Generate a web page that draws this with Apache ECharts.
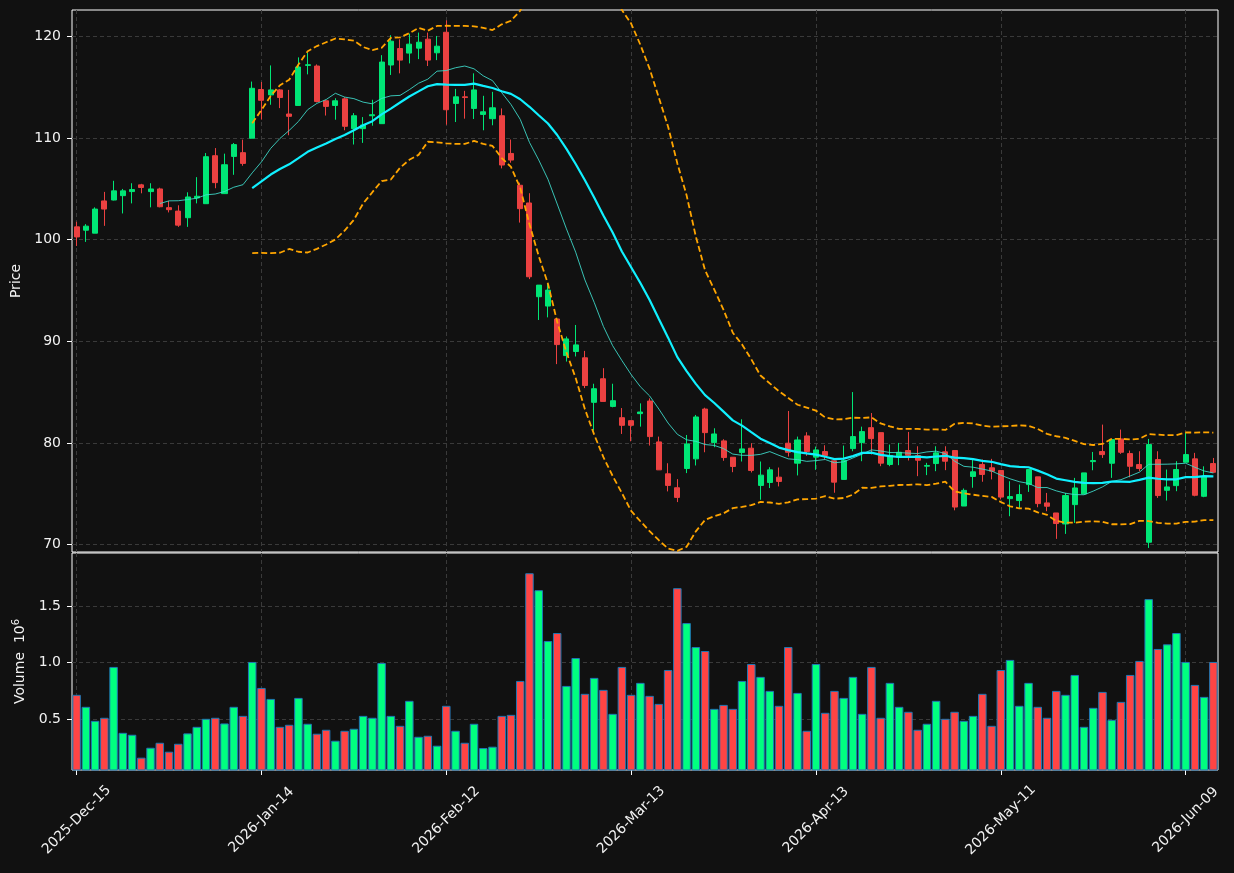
<!DOCTYPE html>
<html>
<head>
<meta charset="utf-8">
<title>Price / Volume</title>
<script src="https://cdn.jsdelivr.net/npm/echarts@6/dist/echarts.min.js"></script>
<style>
  html, body { margin: 0; padding: 0; background: #111111; }
  #chart { width: 1234px; height: 873px; }
</style>
</head>
<body>
<div id="chart"></div>
<script>
// trading days: weekdays from the start date, minus exchange holidays
const startDate = '2025-12-15';
const barCount = 124;
const holidays = ['2025-12-25', '2026-01-01', '2026-01-19', '2026-02-16', '2026-04-03', '2026-05-25'];
const monthNames = ['Jan', 'Feb', 'Mar', 'Apr', 'May', 'Jun', 'Jul', 'Aug', 'Sep', 'Oct', 'Nov', 'Dec'];

// OHLC
const opens = [
  101.25, 100.92, 100.63, 103.80, 103.89, 104.32, 104.72, 105.38, 104.72, 104.98,
  103.14, 102.80, 102.15, 104.10, 103.53, 108.25, 104.52, 108.18, 108.55, 109.97,
  114.76, 114.23, 114.72, 112.35, 113.19, 117.13, 117.07, 113.65, 113.19, 113.84,
  110.91, 110.91, 112.18, 111.40, 117.17, 118.79, 118.34, 118.83, 119.71, 118.37,
  120.39, 113.39, 114.04, 112.90, 112.31, 111.89, 112.18, 108.47, 105.34, 103.60,
  94.38, 93.46, 92.19, 88.59, 88.99, 88.37, 83.99, 86.31, 83.59, 82.48,
  82.19, 82.88, 84.12, 80.10, 76.96, 75.59, 77.48, 78.43, 83.33, 80.03,
  80.20, 78.59, 79.05, 79.48, 75.82, 76.11, 76.63, 79.97, 78.01, 80.69,
  78.60, 79.15, 78.24, 76.41, 79.44, 80.03, 81.50, 81.01, 77.88, 78.60,
  79.25, 78.76, 77.71, 77.97, 79.12, 79.25, 73.79, 76.70, 77.88, 77.55,
  77.29, 74.52, 74.33, 75.90, 76.66, 74.10, 73.11, 72.03, 73.93, 74.98,
  78.16, 79.15, 78.00, 80.39, 78.95, 77.87, 70.23, 78.36, 75.34, 75.80,
  78.10, 78.43, 74.75, 77.97
];
const closes = [
  100.26, 101.32, 103.00, 103.00, 104.79, 104.79, 104.92, 105.12, 104.98, 103.23,
  102.94, 101.42, 104.19, 104.26, 108.15, 105.60, 107.36, 109.34, 107.49, 114.88,
  113.70, 114.72, 113.97, 112.12, 116.97, 117.20, 113.58, 113.10, 113.65, 111.14,
  112.18, 111.27, 112.28, 117.46, 119.51, 117.65, 119.22, 119.41, 117.65, 119.02,
  112.77, 114.04, 113.97, 114.72, 112.57, 112.96, 107.33, 107.82, 103.04, 96.34,
  95.52, 95.03, 89.67, 90.23, 89.64, 85.65, 85.33, 84.08, 84.15, 81.73,
  81.73, 83.04, 80.62, 77.35, 75.82, 74.64, 79.90, 82.55, 81.01, 80.88,
  78.56, 77.68, 79.41, 77.29, 76.83, 77.35, 76.21, 79.08, 80.29, 79.15,
  79.31, 78.76, 76.14, 78.27, 80.62, 81.11, 80.42, 78.01, 78.76, 79.08,
  78.79, 78.30, 77.78, 79.02, 78.20, 73.69, 75.33, 77.16, 76.90, 77.22,
  74.67, 74.72, 74.92, 77.38, 74.03, 73.77, 72.07, 74.82, 75.57, 77.05,
  78.26, 78.85, 80.33, 79.08, 77.70, 77.48, 79.84, 74.82, 75.67, 77.38,
  78.85, 74.85, 76.72, 77.11
];
const lows = [
  99.37, 99.77, 100.63, 101.35, 103.85, 102.57, 103.56, 104.55, 103.17, 103.17,
  102.67, 101.25, 101.25, 103.56, 103.53, 105.05, 104.52, 106.37, 107.26, 109.97,
  111.80, 113.26, 112.93, 110.26, 113.19, 116.25, 113.49, 112.20, 111.79, 110.75,
  109.35, 109.51, 111.20, 111.40, 116.19, 116.35, 117.33, 117.75, 117.07, 117.65,
  111.30, 111.56, 111.89, 111.86, 110.75, 111.24, 107.00, 107.56, 101.67, 96.11,
  92.09, 92.35, 87.75, 88.00, 88.50, 85.39, 81.21, 84.08, 83.50, 80.88,
  80.16, 81.60, 79.74, 77.35, 75.23, 74.18, 77.03, 77.78, 79.08, 79.58,
  78.24, 77.12, 78.17, 77.09, 74.41, 75.56, 75.72, 78.66, 76.80, 78.73,
  77.35, 78.37, 75.10, 76.41, 79.18, 78.20, 78.86, 77.71, 77.71, 77.81,
  78.27, 76.73, 76.83, 77.22, 77.32, 73.37, 73.79, 75.59, 76.18, 76.41,
  74.44, 72.79, 73.61, 75.18, 73.67, 73.28, 70.56, 71.05, 72.13, 74.98,
  77.31, 78.52, 76.56, 78.92, 76.62, 77.21, 69.67, 74.59, 74.33, 75.25,
  78.10, 74.75, 74.66, 77.05
];
const highs = [
  101.75, 101.52, 103.17, 104.69, 105.78, 104.98, 105.54, 105.48, 105.54, 105.10,
  103.80, 103.37, 104.65, 106.14, 108.51, 109.00, 108.45, 109.50, 109.83, 115.54,
  115.50, 117.13, 114.80, 114.72, 117.92, 118.40, 117.23, 113.75, 113.90, 114.00,
  112.44, 112.05, 113.75, 118.14, 120.10, 119.70, 120.26, 120.36, 120.36, 120.03,
  121.56, 114.82, 114.63, 116.35, 114.14, 114.53, 112.90, 109.84, 105.60, 104.56,
  95.52, 95.69, 92.19, 90.46, 91.60, 89.05, 85.82, 87.35, 85.82, 83.43,
  82.19, 83.89, 84.38, 80.62, 78.00, 76.44, 80.78, 82.75, 83.46, 81.44,
  80.36, 78.59, 82.32, 79.97, 78.17, 77.61, 77.58, 83.14, 80.62, 81.05,
  79.64, 79.77, 78.24, 79.74, 85.00, 81.60, 82.94, 81.01, 79.84, 80.00,
  81.08, 79.67, 78.04, 79.67, 79.67, 79.25, 75.52, 78.37, 78.37, 78.43,
  77.29, 76.23, 75.90, 77.38, 76.66, 75.08, 73.11, 75.08, 76.56, 77.05,
  79.11, 81.80, 80.33, 81.31, 79.25, 79.18, 80.39, 79.18, 77.38, 78.20,
  80.98, 79.02, 77.70, 78.52
];
// volume in millions
const volumes = [
  0.715, 0.609, 0.485, 0.512, 0.962, 0.379, 0.362, 0.159, 0.247, 0.291,
  0.212, 0.282, 0.374, 0.432, 0.503, 0.512, 0.462, 0.609, 0.529, 1.006,
  0.776, 0.679, 0.432, 0.450, 0.688, 0.459, 0.371, 0.406, 0.309, 0.397,
  0.415, 0.529, 0.512, 0.997, 0.529, 0.441, 0.662, 0.344, 0.353, 0.265,
  0.618, 0.397, 0.291, 0.459, 0.244, 0.256, 0.529, 0.538, 0.838, 1.791,
  1.641, 1.191, 1.262, 0.794, 1.041, 0.724, 0.865, 0.759, 0.547, 0.962,
  0.715, 0.821, 0.706, 0.635, 0.935, 1.659, 1.350, 1.138, 1.103, 0.591,
  0.626, 0.591, 0.838, 0.988, 0.874, 0.750, 0.618, 1.138, 0.732, 0.397,
  0.988, 0.556, 0.750, 0.688, 0.874, 0.547, 0.962, 0.512, 0.821, 0.609,
  0.565, 0.406, 0.459, 0.662, 0.503, 0.565, 0.485, 0.529, 0.724, 0.441,
  0.935, 1.024, 0.618, 0.821, 0.609, 0.512, 0.750, 0.715, 0.891, 0.432,
  0.600, 0.741, 0.494, 0.653, 0.891, 1.015, 1.562, 1.121, 1.162, 1.262,
  1.006, 0.803, 0.697, 1.006
];

const priceTicks = [70, 80, 90, 100, 110, 120];
const volumeTicks = [0.5, 1.0, 1.5];

const upColor = '#00e676';
const downColor = '#eb4141';
const volUpColor = '#00ff80';
const volDownColor = '#ff4444';
const textColor = '#f2f2f2';
const gridColor = '#3a3a3a';
const frameColor = '#ffffff';

function buildDates() {
  const out = [];
  const d = new Date(startDate + 'T00:00:00Z');
  while (out.length < barCount) {
    const iso = d.toISOString().slice(0, 10);
    const wd = d.getUTCDay();
    if (wd !== 0 && wd !== 6 && holidays.indexOf(iso) < 0) {
      out.push(d.getUTCFullYear() + '-' + monthNames[d.getUTCMonth()] + '-' + iso.slice(8, 10));
    }
    d.setUTCDate(d.getUTCDate() + 1);
  }
  return out;
}

function rollingMean(arr, n) {
  return arr.map((_, i) => {
    if (i < n - 1) return '-';
    let s = 0;
    for (let k = i - n + 1; k <= i; k++) s += arr[k];
    return s / n;
  });
}

// population std (ddof = 0)
function rollingStd(arr, n) {
  return arr.map((_, i) => {
    if (i < n - 1) return '-';
    let s = 0;
    for (let k = i - n + 1; k <= i; k++) s += arr[k];
    const m = s / n;
    let v = 0;
    for (let k = i - n + 1; k <= i; k++) v += (arr[k] - m) * (arr[k] - m);
    return Math.sqrt(v / n);
  });
}

const dates = buildDates();
const ma10 = rollingMean(closes, 10);
const ma20 = rollingMean(closes, 20);
const sd20 = rollingStd(closes, 20);
const upperBand = ma20.map((m, i) => m === '-' ? '-' : m + 2 * sd20[i]);
const lowerBand = ma20.map((m, i) => m === '-' ? '-' : m - 2 * sd20[i]);

const candleData = opens.map((o, i) => [o, closes[i], lows[i], highs[i]]);
const volumeData = volumes.map((v, i) => ({
  value: v,
  itemStyle: { color: closes[i] >= opens[i] ? volUpColor : volDownColor }
}));

const chart = echarts.init(document.getElementById('chart'));

const font = { color: textColor, fontSize: 14, fontFamily: 'DejaVu Sans' };
const dashed = { color: gridColor, type: [4, 3], width: 1 };

chart.setOption({
  backgroundColor: '#111111',
  animation: false,
  grid: [
    { left: 72, top: 10, width: 1146, height: 542, show: true, borderColor: frameColor, borderWidth: 1, backgroundColor: 'transparent' },
    { left: 72, top: 553, width: 1146, height: 217, show: true, borderColor: frameColor, borderWidth: 1, backgroundColor: 'transparent' }
  ],
  xAxis: [
    {
      type: 'category', gridIndex: 0, data: dates, boundaryGap: true,
      axisLine: { show: false }, axisTick: { show: false }, axisLabel: { show: false },
      splitLine: { show: true, interval: 19, alignWithLabel: true, lineStyle: dashed }
    },
    {
      type: 'category', gridIndex: 1, data: dates, boundaryGap: true,
      axisLine: { show: false },
      axisTick: { show: true, interval: 19, alignWithLabel: true, length: 5, lineStyle: { color: frameColor } },
      axisLabel: Object.assign({ interval: 19, rotate: 45, align: 'center', verticalAlign: 'middle', margin: 50 }, font),
      splitLine: { show: true, interval: 19, alignWithLabel: true, lineStyle: dashed }
    }
  ],
  yAxis: [
    {
      type: 'value', gridIndex: 0, min: 69.27, max: 122.58, splitNumber: 5, scale: true,
      name: 'Price', nameLocation: 'middle', nameRotate: 90, nameGap: 43,
      nameTextStyle: font,
      axisLine: { show: false },
      axisTick: { show: true, length: 5, customValues: priceTicks, lineStyle: { color: frameColor } },
      axisLabel: Object.assign({ margin: 11, customValues: priceTicks }, font),
      splitLine: { show: true, lineStyle: dashed }
    },
    {
      type: 'value', gridIndex: 1, min: 0.05, max: 1.97, splitNumber: 4,
      name: 'Volume  10{sup|6}', nameLocation: 'middle', nameRotate: 90, nameGap: 41,
      nameTextStyle: Object.assign({ rich: { sup: { fontSize: 10, fontFamily: 'DejaVu Sans', color: textColor, padding: [0, 0, 8, 0] } } }, font),
      axisLine: { show: false },
      axisTick: { show: true, length: 5, customValues: volumeTicks, lineStyle: { color: frameColor } },
      axisLabel: Object.assign({
        margin: 11, customValues: volumeTicks,
        formatter: v => v.toFixed(1)
      }, font),
      splitLine: { show: true, lineStyle: dashed }
    }
  ],
  series: [
    {
      name: 'OHLC', type: 'candlestick', xAxisIndex: 0, yAxisIndex: 0, z: 2,
      data: candleData, barWidth: '60%',
      itemStyle: { color: upColor, color0: downColor, borderColor: upColor, borderColor0: downColor, borderWidth: 1 }
    },
    {
      name: 'MA10', type: 'line', xAxisIndex: 0, yAxisIndex: 0, z: 3, data: ma10,
      showSymbol: false, lineStyle: { color: 'rgba(64,224,208,0.85)', width: 1 }
    },
    {
      name: 'MA20', type: 'line', xAxisIndex: 0, yAxisIndex: 0, z: 4, data: ma20,
      showSymbol: false, lineStyle: { color: '#10f0ff', width: 2.2 }
    },
    {
      name: 'Upper', type: 'line', xAxisIndex: 0, yAxisIndex: 0, z: 4, data: upperBand,
      showSymbol: false, lineStyle: { color: '#ffa500', width: 1.8, type: [6, 3] }
    },
    {
      name: 'Lower', type: 'line', xAxisIndex: 0, yAxisIndex: 0, z: 4, data: lowerBand,
      showSymbol: false, lineStyle: { color: '#ffa500', width: 1.8, type: [6, 3] }
    },
    {
      name: 'Volume', type: 'bar', xAxisIndex: 1, yAxisIndex: 1, data: volumeData,
      barWidth: '92%', itemStyle: { borderColor: '#1f77b4', borderWidth: 1 }
    }
  ]
});
</script>
</body>
</html>
